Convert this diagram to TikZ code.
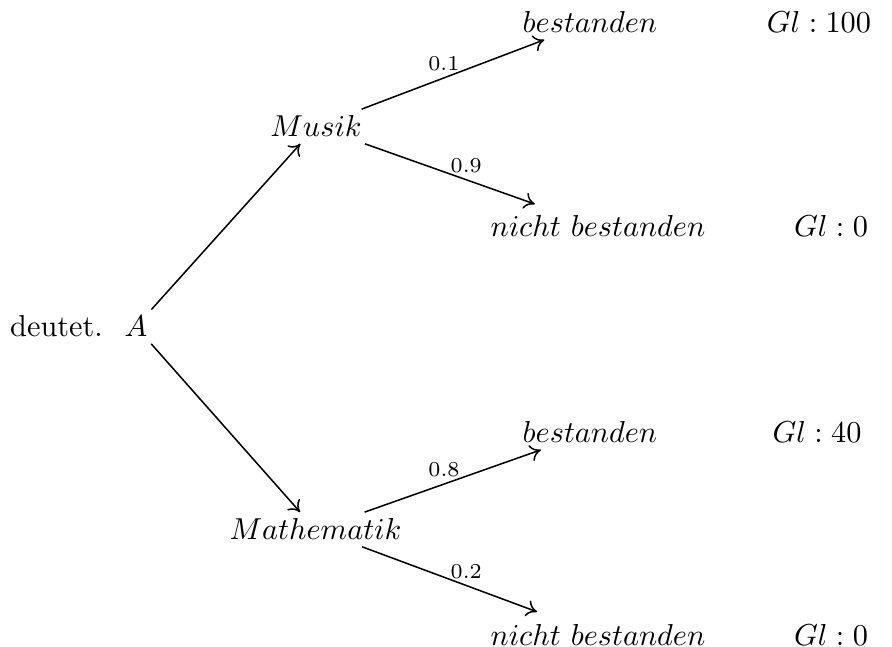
\documentclass[tikz,border=0pt]{standalone}
\usetikzlibrary{arrows.meta}
\begin{document}
\begin{tikzpicture}[x=0.33pt, y=-0.33pt, line width=0.5pt, >={To[length=3.5pt, width=5.5pt]}]
        % Definition der Stile
        \tikzstyle{knotenText} = [anchor=base, inner sep=2pt]
        \tikzstyle{kante} = [->]
        \tikzstyle{wahrsch} = [above, font=\scriptsize, inner sep=2pt]

        \useasboundingbox (0,0) rectangle (892,647);

        % Wurzel
        \node[knotenText] (wortDeutet) at (56.5,337) {deutet.};
        \node[knotenText] (wurzelA) at (136,337) {$A$};

        % Erste Stufe
        \node[knotenText] (fachMusik) at (316,137) {$Musik$};
        \node[knotenText] (fachMathe) at (315.5,540) {$Mathematik$};

        % Zweite Stufe
        \node[knotenText] (musikBest) at (590,33) {$bestanden$};
        \node[knotenText] (musikNicht) at (598,237) {$nicht\ bestanden$};
        \node[knotenText] (matheBest) at (590,443) {$bestanden$};
        \node[knotenText] (matheNicht) at (598,645) {$nicht\ bestanden$};

        % Gleichgewichte
        \node[knotenText] (glEins) at (819,33) {$Gl:100$};
        \node[knotenText] (glZwei) at (831,237) {$Gl:0$};
        \node[knotenText] (glDrei) at (817,443) {$Gl:40$};
        \node[knotenText] (glVier) at (831,645) {$Gl:0$};

        % Kanten
        \draw[kante] (wurzelA) -- (fachMusik);
        \draw[kante] (wurzelA) -- (fachMathe);
        \draw[kante] (fachMusik) -- node[wahrsch, pos=0.45] {0.1} (musikBest);
        \draw[kante, shorten >=5pt] (fachMusik) -- node[wahrsch, pos=0.55] {0.9} (musikNicht);
        \draw[kante] (fachMathe) -- node[wahrsch, pos=0.45] {0.8} (matheBest);
        \draw[kante, shorten >=5pt] (fachMathe) -- node[wahrsch, pos=0.55] {0.2} (matheNicht);
    \end{tikzpicture}
\end{document}
